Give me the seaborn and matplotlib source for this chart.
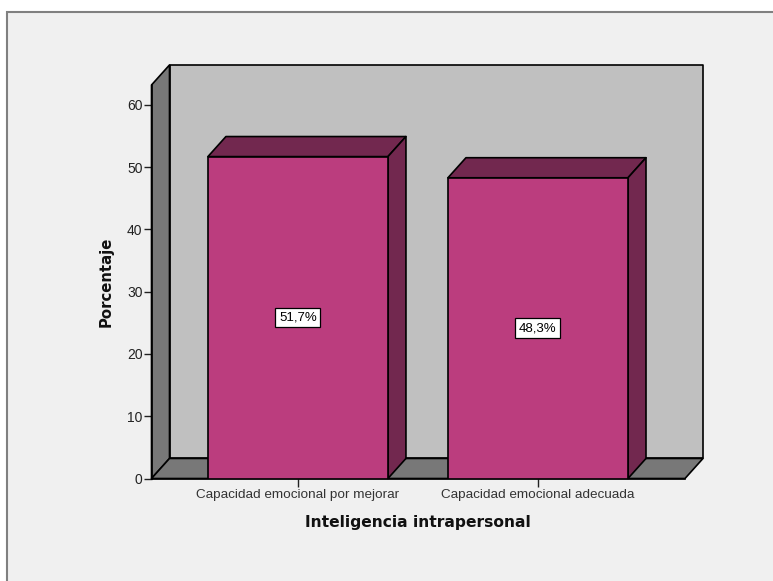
import matplotlib
matplotlib.use('Agg')
import matplotlib.pyplot as plt
import pandas as pd
import seaborn as sns
from matplotlib.patches import Polygon, Rectangle

categorias = ['Capacidad emocional por mejorar', 'Capacidad emocional adecuada']
porcentajes = [51.7, 48.3]
etiquetas = ['51,7%', '48,3%']
yticks = [0, 10, 20, 30, 40, 50, 60]

BAR = '#bb3d7e'
DARK = '#72284f'
WALL = '#787878'
BACK = '#c0c0c0'
BG = '#f0f0f0'

# 3D look: depth of the box in data units
DX = 0.075
DY = 3.22
XMIN, XMAX = -0.61, 1.6125
YMAX = 63.2

sns.set_style('white')
plt.rcParams['font.family'] = ['Liberation Sans', 'DejaVu Sans']

fig = plt.figure(figsize=(7.73, 5.81), dpi=100, facecolor='white')
fig.add_artist(Rectangle((7.5 / 773, -0.1), 1.1, 1.1 - 11.5 / 581, transform=fig.transFigure,
                         facecolor=BG, edgecolor='#808080', linewidth=1.5, zorder=-1))
ax = fig.add_axes([151.5 / 773, 1 - 478.5 / 581, (685 - 151.5) / 773, (478.5 - 85) / 581])
ax.patch.set_visible(False)

df = pd.DataFrame({'categoria': categorias, 'porcentaje': porcentajes})
sns.barplot(data=df, x='categoria', y='porcentaje', color=BAR, saturation=1, width=0.75,
            edgecolor='black', linewidth=1.2, ax=ax, zorder=5)


def caja(puntos, color, z):
    ax.add_patch(Polygon(puntos, closed=True, facecolor=color, edgecolor='black',
                         linewidth=1.2, clip_on=False, zorder=z, joinstyle='round'))


# walls and floor
caja([(XMIN + DX, DY), (XMAX + DX, DY), (XMAX + DX, YMAX + DY), (XMIN + DX, YMAX + DY)], BACK, 1)
caja([(XMIN, 0), (XMIN + DX, DY), (XMIN + DX, YMAX + DY), (XMIN, YMAX)], WALL, 2)
caja([(XMIN, 0), (XMAX, 0), (XMAX + DX, DY), (XMIN + DX, DY)], WALL, 2)

# top and side of each bar
for bar in ax.containers[0]:
    x0, x1, h = bar.get_x(), bar.get_x() + bar.get_width(), bar.get_height()
    caja([(x0, h), (x1, h), (x1 + DX, h + DY), (x0 + DX, h + DY)], DARK, 4)
    caja([(x1, 0), (x1 + DX, DY), (x1 + DX, h + DY), (x1, h)], DARK, 4)

ax.bar_label(ax.containers[0], labels=etiquetas, label_type='center', fontsize=9.5, color='black', zorder=6,
             bbox=dict(boxstyle='square,pad=0.28', facecolor='white', edgecolor='black', linewidth=0.9))

ax.set_xlim(XMIN, XMAX)
ax.set_ylim(0, YMAX)
ax.set_yticks(yticks)
sns.despine(ax=ax, top=True, right=True)
for s in ['left', 'bottom']:
    ax.spines[s].set_color('black')
    ax.spines[s].set_linewidth(1.2)
    ax.spines[s].set_zorder(3)
ax.tick_params(axis='both', which='major', length=5.5, width=1, color='#222222', left=True, bottom=True)
ax.tick_params(axis='y', labelsize=10, labelcolor='#222222', pad=1)
ax.tick_params(axis='x', labelsize=9.7, labelcolor='#333333', pad=2)

fig.text(106 / 773, 1 - 282 / 581, 'Porcentaje', rotation=90, ha='center', va='center',
         fontsize=10.7, fontweight='bold', color='#111111', family=['DejaVu Sans'])
fig.text(418 / 773, 1 - 522 / 581, 'Inteligencia intrapersonal', ha='center', va='center',
         fontsize=11.2, fontweight='bold', color='#111111', family=['DejaVu Sans'])
ax.set_xlabel('')
ax.set_ylabel('')

fig.savefig('out.png', dpi=100, facecolor=fig.get_facecolor())
